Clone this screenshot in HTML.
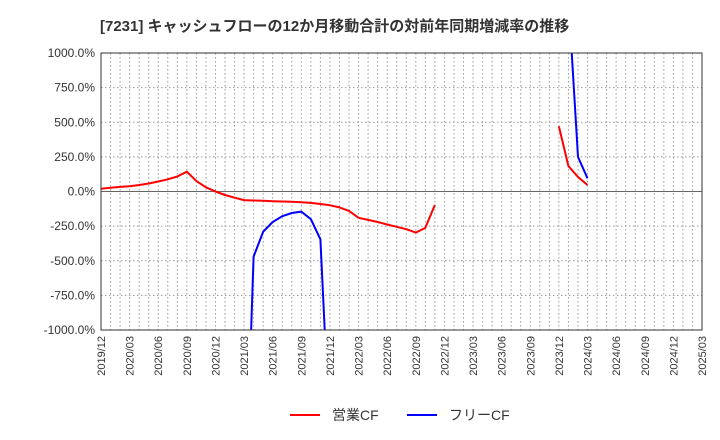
<!DOCTYPE html>
<html><head><meta charset="utf-8"><style>
html,body{margin:0;padding:0;background:#fff;width:720px;height:440px;overflow:hidden;font-family:"Liberation Sans","Noto Sans CJK JP",sans-serif}
svg{display:block}
</style></head><body>
<svg id="chart" width="720" height="440" xmlns="http://www.w3.org/2000/svg" font-family="'Liberation Sans','Noto Sans CJK JP',sans-serif">
<text x="100" y="31" font-size="15" font-weight="bold" fill="#333">[7231]  キャッシュフローの12か月移動合計の対前年同期増減率の推移</text>
<defs><clipPath id="pc"><rect x="101" y="53" width="601" height="277"/></clipPath></defs>
<g id="grid"></g>
<g id="series" clip-path="url(#pc)"></g>
<rect x="101" y="53" width="601" height="277" fill="none" stroke="#333" stroke-width="1"/>
<g id="axes"></g>
<g>
<line x1="290" y1="415" x2="320" y2="415" stroke="#f00" stroke-width="2"/>
<text x="332" y="420" font-size="14" fill="#333">営業CF</text>
<line x1="407" y1="415" x2="437" y2="415" stroke="#00f" stroke-width="2"/>
<text x="449" y="420" font-size="14" fill="#333">フリーCF</text>
</g>
</svg>
<script>
const yTicks=[1000,750,500,250,0,-250,-500,-750,-1000];
const xLabels=["2019/12","2020/03","2020/06","2020/09","2020/12","2021/03","2021/06","2021/09","2021/12","2022/03","2022/06","2022/09","2022/12","2023/03","2023/06","2023/09","2023/12","2024/03","2024/06","2024/09","2024/12","2025/03"];
// monthly values starting 2019/12
const operatingCF=[20,27,33,38,47,58,72,88,108,143,75,30,0,-25,-45,-62,-65,-67,-70,-72,-74,-77,-82,-90,-100,-115,-140,-190,-205,-220,-238,-255,-272,-297,-263,-97,null,null,null,null,null,null,null,null,null,null,null,null,470,184,105,47];
const freeCF=[null,null,null,null,null,null,null,null,null,null,null,null,null,null,null,-2500,-470,-290,-220,-178,-155,-145,-200,-345,-1800,null,null,null,null,null,null,null,null,null,null,null,null,null,null,null,null,null,null,null,null,null,null,null,null,1400,250,95];
const NS="http://www.w3.org/2000/svg";
const X0=101,X1=702,Y0=53,Y1=330,NM=63;
const xs=i=>X0+(X1-X0)*i/NM;
const ys=v=>Y1-(v+1000)/2000*(Y1-Y0);
function mk(t,a,p){const e=document.createElementNS(NS,t);for(const k in a)e.setAttribute(k,a[k]);p.appendChild(e);return e;}
const grid=document.getElementById('grid'),axes=document.getElementById('axes'),ser=document.getElementById('series');
for(let m=1;m<NM;m++){const l=mk('line',{x1:xs(m),x2:xs(m),y1:Y0,y2:Y1,stroke:'#999','stroke-dasharray':'1.5,2.5','stroke-width':1},grid);

}
yTicks.forEach(v=>{const y=ys(v);
const l=mk('line',{x1:X0,x2:X1,y1:y,y2:y,stroke:v===0?'#666':'#999','stroke-dasharray':v===0?'':'1.5,2.5','stroke-width':1},grid);


const t=mk('text',{x:X0-6,y:y+4,'text-anchor':'end','font-size':12,fill:'#333'},axes);t.textContent=v.toFixed(1)+'%';

});
xLabels.forEach((s,i)=>{const x=xs(i*3);const t=mk('text',{transform:`translate(${x+4},${Y1+6}) rotate(-90)`,'text-anchor':'end','font-size':11,fill:'#333'},axes);t.textContent=s;

});
function draw(arr,color,name){let d='';let pen=false;arr.forEach((v,i)=>{if(v===null){pen=false;return;}d+=(pen?'L':'M')+xs(i).toFixed(1)+','+ys(v).toFixed(1);pen=true;});
const p=mk('path',{d:d,fill:'none',stroke:color,'stroke-width':2,'stroke-linejoin':'round'},ser);

}
draw(operatingCF,'#f00','operating-cf-line');
draw(freeCF,'#00f','free-cf-line');
</script>
</body></html>
